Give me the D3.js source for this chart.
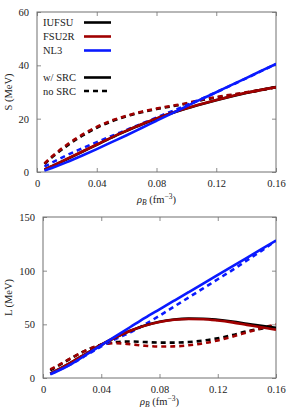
<!DOCTYPE html>
<html><head><meta charset="utf-8">
<script src="https://cdn.jsdelivr.net/npm/d3@7"></script>
<style>body{margin:0;background:#fff}svg{display:block}text{font-family:"Liberation Serif","Times New Roman",serif;fill:#222}</style>
</head><body><svg id="c" width="295" height="413"></svg>
<script>
const rho = [0.005,0.01,0.02,0.03,0.04,0.05,0.06,0.07,0.08,0.09,0.10,0.11,0.12,0.13,0.14,0.15,0.16];
// Symmetry energy S (MeV)
const S_IUFSU_src = [0.9,2.2,4.8,7.5,10.2,12.9,15.4,17.8,20.0,22.0,23.8,25.4,26.9,28.3,29.6,30.8,31.9];
const S_FSU2R_src = [0.9,2.2,4.9,7.6,10.3,13.0,15.5,17.9,20.1,22.1,23.9,25.5,27.0,28.4,29.7,30.8,31.8];
const S_NL3_src   = [0.5,1.5,3.7,6.1,8.6,11.2,13.8,16.5,19.2,21.9,24.6,27.3,29.9,32.6,35.2,37.9,40.5];
const S_IUFSU_no  = [3.0,5.5,9.8,13.5,16.6,19.0,20.9,22.4,23.6,24.6,25.6,26.9,27.9,28.8,29.7,30.7,31.8];
const S_FSU2R_no  = [3.2,5.8,10.2,13.9,16.9,19.3,21.1,22.6,23.8,24.8,25.8,27.1,28.1,29.0,29.9,30.8,31.8];
const S_NL3_no    = [2.0,3.5,6.3,8.8,11.2,13.5,15.8,18.1,20.4,22.7,25.0,27.4,29.9,32.5,35.1,37.8,40.5];
// Slope L (MeV)
const L_IUFSU_src = [4,7.5,15,23,31,38,44,49,52.5,54.5,55.3,55.2,54.2,52.6,50.6,48.6,46.8];
const L_FSU2R_src = [4,7.5,15,23,31,38,44,48.8,52.2,54.2,55,54.8,53.6,51.8,49.5,47.2,45];
const L_NL3_src   = [3.5,6.5,13.5,22,30.5,39,47.5,56,64,72,80,88,96,104,112,120,128];
const L_IUFSU_no  = [7,11,19,26,31,33.5,34,33.5,33,33,33.5,34.8,37,40,43.5,46,48.5];
const L_FSU2R_no  = [8,11.5,19,26,31,32.5,31.5,30,29.3,29.5,30.5,32.3,35,38.5,42.5,46.5,50];
const L_NL3_no    = [4,7,13.5,21.5,29.5,36.5,42.5,50,58,66.5,75,83.5,92,100.5,109.5,118.5,128];

const xTicks = [0,0.04,0.08,0.12,0.16];
const sTicks = [0,20,40,60];
const lTicks = [0,50,100,150];
const models = ["IUFSU","FSU2R","NL3"];
const colors = {IUFSU:"#000000",FSU2R:"#a00000",NL3:"#0a1aff"};

const svg = d3.select("#c");
const fmt = d => d===0 ? "0" : d3.format(".2f")(d);

function panel(o){
  const x = d3.scaleLinear().domain([0,0.16]).range([o.x0,o.x1]);
  const y = d3.scaleLinear().domain(o.ydom).range([o.y1,o.y0]);
  const g = svg.append("g");
  const ax = "#707070";
  g.append("g").attr("transform",`translate(0,${o.y1})`)
    .call(d3.axisBottom(x).tickValues(xTicks).tickSize(-4).tickPadding(8).tickFormat(fmt));
  g.append("g").attr("transform",`translate(0,${o.y0})`)
    .call(d3.axisTop(x).tickValues(xTicks).tickSize(-4).tickFormat(""));
  g.append("g").attr("transform",`translate(${o.x0},0)`)
    .call(d3.axisLeft(y).tickValues(o.yticks).tickSize(-4).tickPadding(8));
  g.append("g").attr("transform",`translate(${o.x1},0)`)
    .call(d3.axisRight(y).tickValues(o.yticks).tickSize(-4).tickFormat(""));
  g.selectAll(".domain").remove();
  g.selectAll(".tick line").attr("stroke",ax).attr("stroke-width",0.8);
  g.selectAll(".tick text").attr("font-size",10.5).attr("fill","#333")
    .style("font-family",'"Liberation Serif",serif');
  g.append("rect").attr("x",o.x0).attr("y",o.y0).attr("width",o.x1-o.x0).attr("height",o.y1-o.y0)
    .attr("fill","none").attr("stroke",ax).attr("stroke-width",1);
  const line = d3.line().x((d,i)=>x(rho[i])).y(d=>y(d)).curve(d3.curveMonotoneX);
  const clip = "clip"+o.id;
  svg.append("clipPath").attr("id",clip).append("rect").attr("x",o.x0).attr("y",o.y0).attr("width",o.x1-o.x0).attr("height",o.y1-o.y0);
  const lg = g.append("g").attr("clip-path",`url(#${clip})`);
  o.series.forEach(s=>{
    lg.append("path").attr("d",line(s.v)).attr("fill","none").attr("stroke",colors[s.m])
      .attr("stroke-width",2.6).attr("stroke-dasharray",s.dash?"5,4":null);
  });
  g.append("text").attr("transform",`translate(${o.ylx},${(o.y0+o.y1)/2}) rotate(-90)`)
    .attr("text-anchor","middle").attr("font-size",10.5).text(o.ylabel);
  const t = g.append("text").attr("x",(o.x0+o.x1)/2).attr("y",o.xly).attr("text-anchor","middle").attr("font-size",10.5);
  t.append("tspan").attr("font-style","italic").text("ρ");
  t.append("tspan").attr("font-style","italic").attr("font-size",7.5).attr("dy",2).text("B");
  t.append("tspan").attr("dy",-2).text(" (fm");
  t.append("tspan").attr("font-size",7.5).attr("dy",-4).text("−3");
  t.append("tspan").attr("dy",4).text(")");
  return {x,y,g};
}

const topPanel = panel({id:"S",x0:37,x1:276,y0:12,y1:172,ydom:[0,60],yticks:sTicks,ylabel:"S (MeV)",ylx:12,xly:203,
  series:[
    {m:"IUFSU",v:S_IUFSU_no,dash:true},{m:"FSU2R",v:S_FSU2R_no,dash:true},{m:"NL3",v:S_NL3_no,dash:true},
    {m:"IUFSU",v:S_IUFSU_src},{m:"FSU2R",v:S_FSU2R_src},{m:"NL3",v:S_NL3_src}]});
const botPanel = panel({id:"L",x0:43,x1:276,y0:217,y1:378,ydom:[0,150],yticks:lTicks,ylabel:"L (MeV)",ylx:12,xly:405,
  series:[
    {m:"IUFSU",v:L_IUFSU_no,dash:true},{m:"FSU2R",v:L_FSU2R_no,dash:true},{m:"NL3",v:L_NL3_no,dash:true},
    {m:"IUFSU",v:L_IUFSU_src},{m:"FSU2R",v:L_FSU2R_src},{m:"NL3",v:L_NL3_src}]});

const leg = svg.append("g");
const rows = models.map((m,i)=>({label:m,color:colors[m],dash:false,y:22.5+i*14}));
rows.push({label:"w/ SRC",color:"#000",dash:false,y:77.5});
rows.push({label:"no SRC",color:"#000",dash:true,y:91});
rows.forEach(r=>{
  leg.append("text").attr("x",43).attr("y",r.y+3.5).attr("font-size",10.5).text(r.label);
  leg.append("line").attr("x1",84).attr("x2",111).attr("y1",r.y).attr("y2",r.y)
    .attr("stroke",r.color).attr("stroke-width",2.6).attr("stroke-dasharray",r.dash?"5,4":null);
});
</script></body></html>
